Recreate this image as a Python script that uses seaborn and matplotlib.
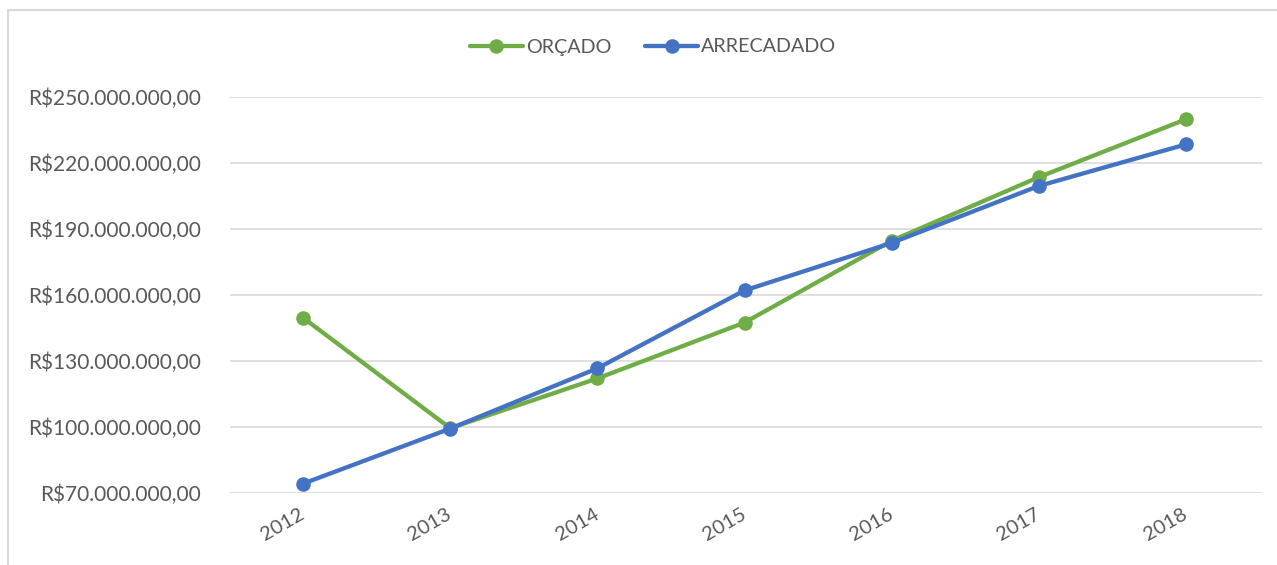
import matplotlib
matplotlib.use("Agg")
import matplotlib.pyplot as plt
from matplotlib.lines import Line2D
from matplotlib.ticker import FuncFormatter
import seaborn as sns
import pandas as pd

anos = ["2012", "2013", "2014", "2015", "2016", "2017", "2018"]
orcado = [149.8, 99.6, 122.2, 147.6, 184.8, 213.7, 240.0]      # milhões de R$
arrecadado = [74.4, 99.4, 126.8, 162.2, 183.8, 209.7, 228.6]   # milhões de R$
series = ["ORÇADO", "ARRECADADO"]
cores = {"ORÇADO": "#70AD47", "ARRECADADO": "#4472C4"}
marcas_y = [70e6, 100e6, 130e6, 160e6, 190e6, 220e6, 250e6]

df = pd.DataFrame({
    "ano": anos * 2,
    "valor": [v * 1e6 for v in orcado + arrecadado],
    "serie": [series[0]] * len(anos) + [series[1]] * len(anos),
})

sns.set_theme(style="white")
plt.rcParams["font.family"] = ["Lato", "DejaVu Sans"]
texto = "#595959"

fig = plt.figure(figsize=(12.77, 5.65), dpi=100)
W, H = 1277, 565
ax = fig.add_axes([229.5 / W, 1 - 493.3 / H, (1261.5 - 229.5) / W, (493.3 - 97.3) / H])

sns.lineplot(data=df, x="ano", y="valor", hue="serie", hue_order=series,
             palette=cores, marker="o", markersize=10.5, markeredgewidth=0,
             linewidth=3.1, legend=False, ax=ax, sort=False)

ax.set_xlim(-0.5, len(anos) - 0.5 + 2 / 147.2)
ax.set_ylim(marcas_y[0], marcas_y[-1])
ax.set_yticks(marcas_y)


def reais(v, pos):
    s = f"{v:,.2f}"
    s = s.replace(",", "X").replace(".", ",").replace("X", ".")
    return "R$" + s


ax.yaxis.set_major_formatter(FuncFormatter(reais))
ax.grid(axis="y", color="#D9D9D9", linewidth=1.2)
ax.grid(axis="x", visible=False)
for s in ax.spines.values():
    s.set_visible(False)
ax.set_xlabel("")
ax.set_ylabel("")
ax.tick_params(axis="y", length=0, pad=20.5, labelsize=15, labelcolor=texto)
ax.tick_params(axis="x", length=0, pad=14, labelsize=14.5, labelcolor=texto)
for lab in ax.get_xticklabels():
    lab.set_rotation(30)
    lab.set_ha("right")
    lab.set_va("center")
    lab.set_rotation_mode("anchor")

handles = [Line2D([0], [0], color=cores[s], linewidth=3.1, marker="o",
                  markersize=10.5, markeredgewidth=0) for s in series]
leg = fig.legend(handles, series, loc="center", bbox_to_anchor=(653 / W, 1 - 47 / H),
                 ncol=2, frameon=False, fontsize=14.2, handlelength=2.7,
                 handletextpad=0.15, columnspacing=1.7, labelcolor=texto)

# moldura: apenas bordas superior e esquerda
borda = dict(color="#D9D9D9", linewidth=1.5, transform=fig.transFigure)
fig.lines.append(Line2D([8 / W, 1], [1 - 10 / H, 1 - 10 / H], **borda))
fig.lines.append(Line2D([8 / W, 8 / W], [0, 1 - 10 / H], **borda))

fig.savefig("out.png", dpi=100, facecolor="white")
